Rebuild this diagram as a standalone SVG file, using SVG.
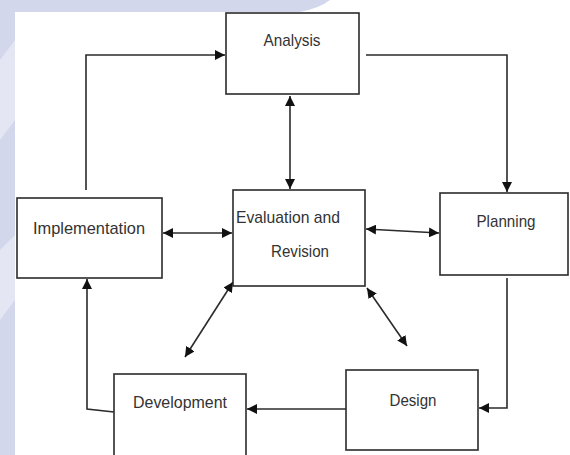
<svg xmlns="http://www.w3.org/2000/svg" width="570" height="455" viewBox="0 0 570 455">
<defs>
<style>
.box{fill:#fff;stroke:#2b2b2b;stroke-width:1.6}
.lbl{font-family:"Liberation Sans",Arial,sans-serif;font-size:17px;fill:#333;text-anchor:middle}
.ln{fill:none;stroke:#2b2b2b;stroke-width:1.6}
</style>
<marker id="ah" viewBox="0 0 10 10" refX="10" refY="5" markerWidth="10" markerHeight="10" markerUnits="userSpaceOnUse" orient="auto-start-reverse">
<path d="M0,0 L10,5 L0,10 Z" fill="#111"/>
</marker>
</defs>
<rect width="570" height="455" fill="#fff"/>
<path d="M0,0 H330 Q320,8 300,12 H15 V455 H0 Z" fill="#d3d7ec"/>
<path d="M0,60 L15,40 V120 L0,140 Z" fill="#e4e6f3"/>
<path d="M0,250 L15,235 V300 L0,320 Z" fill="#e4e6f3"/>
<rect x="15" y="12" width="555" height="443" fill="#fff"/>
<g id="connectors">
<path class="ln" d="M86,190 V55 H225" marker-end="url(#ah)"/>
<path class="ln" d="M366,55 H507 V192" marker-end="url(#ah)"/>
<path class="ln" d="M290,96 V189" marker-start="url(#ah)" marker-end="url(#ah)"/>
<path class="ln" d="M163,233 H232" marker-start="url(#ah)" marker-end="url(#ah)"/>
<path class="ln" d="M366,229 L439,233" marker-start="url(#ah)" marker-end="url(#ah)"/>
<path class="ln" d="M507,278 V408 H479" marker-end="url(#ah)"/>
<path class="ln" d="M346,409 H247" marker-end="url(#ah)"/>
<path class="ln" d="M114,412 L87,409 V279" marker-end="url(#ah)"/>
<path class="ln" d="M233,282 L185,357" marker-start="url(#ah)" marker-end="url(#ah)"/>
<path class="ln" d="M367,288 L407,346" marker-start="url(#ah)" marker-end="url(#ah)"/>
</g>
<g id="analysis"><rect class="box" x="226" y="13" width="133" height="81"/><text class="lbl" x="292" y="46" textLength="57" lengthAdjust="spacingAndGlyphs">Analysis</text></g>
<g id="evaluation"><rect class="box" x="233" y="190" width="132" height="96"/><text class="lbl" x="288" y="223" textLength="104" lengthAdjust="spacingAndGlyphs">Evaluation and</text><text class="lbl" x="300" y="257" textLength="58" lengthAdjust="spacingAndGlyphs">Revision</text></g>
<g id="planning"><rect class="box" x="440" y="193" width="128" height="82"/><text class="lbl" x="506" y="227" textLength="59" lengthAdjust="spacingAndGlyphs">Planning</text></g>
<g id="implementation"><rect class="box" x="17" y="198" width="145" height="80"/><text class="lbl" x="89" y="234" textLength="112" lengthAdjust="spacingAndGlyphs">Implementation</text></g>
<g id="development"><rect class="box" x="114" y="374" width="132" height="90"/><text class="lbl" x="180" y="408" textLength="94" lengthAdjust="spacingAndGlyphs">Development</text></g>
<g id="design"><rect class="box" x="346" y="370" width="132" height="80"/><text class="lbl" x="413" y="406" textLength="47" lengthAdjust="spacingAndGlyphs">Design</text></g>
</svg>
